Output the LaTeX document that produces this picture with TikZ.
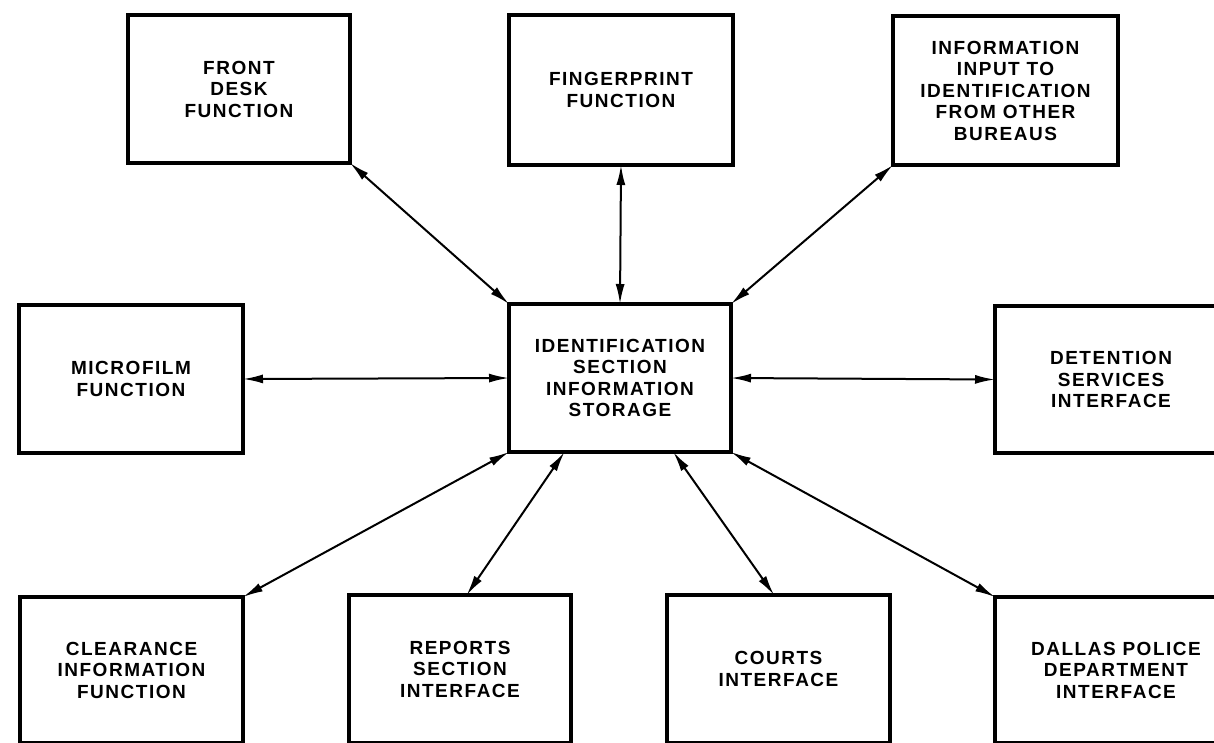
\documentclass[tikz,border=0pt]{standalone}
\usepackage{fontspec}
\setmainfont{Liberation Sans}
\newfontfamily\labfont{Liberation Sans}[LetterSpace=8]
\usetikzlibrary{arrows.meta,calc}
\tikzset{
  blk/.style={draw=black, line width=3.5pt, rectangle, inner sep=0pt, outer sep=0pt, align=center,
    font=\labfont\bfseries\fontsize{19}{21.5}\selectfont},
  conn/.style={line width=2pt, {Latex[length=20pt,width=9pt]}-{Latex[length=20pt,width=9pt]}}
}
\begin{document}
\begin{tikzpicture}[x=1pt,y=-1pt]
\fill[white] (0,0) rectangle (1214,742);
\useasboundingbox (0,0) rectangle (1214,742);
% top row
\node[blk, minimum width=222pt, minimum height=148pt] (front) at (239,89) {FRONT\\DESK\\FUNCTION};
\node[blk, minimum width=224pt, minimum height=150pt] (finger) at (621,90) {FINGERPRINT\\FUNCTION};
\node[blk, minimum width=225pt, minimum height=149pt] (info) at (1005.5,90.5) {INFORMATION\\INPUT TO\\IDENTIFICATION\\FROM OTHER\\BUREAUS};
% middle row
\node[blk, minimum width=224pt, minimum height=148pt] (micro) at (131,379) {MICROFILM\\FUNCTION};
\node[blk, minimum width=222pt, minimum height=148pt] (center) at (620,378) {IDENTIFICATION\\SECTION\\INFORMATION\\STORAGE};
\node[blk, minimum width=232pt, minimum height=147pt] (deten) at (1111,379.5) {DETENTION\\SERVICES\\INTERFACE};
% bottom row
\node[blk, minimum width=223pt, minimum height=146pt] (clear) at (131.5,670) {CLEARANCE\\INFORMATION\\FUNCTION};
\node[blk, minimum width=222pt, minimum height=148pt] (reports) at (460,669) {REPORTS\\SECTION\\INTERFACE};
\node[blk, minimum width=223pt, minimum height=148pt] (courts) at (778.5,669) {COURTS\\INTERFACE};
\node[blk, minimum width=242pt, minimum height=146pt] (dallas) at (1116,670) {DALLAS POLICE\\DEPARTMENT\\INTERFACE};
% connector end points on box borders
\coordinate (cRep) at ($(center.south west)!0.25!(center.south east)$);
\coordinate (cCou) at ($(center.south west)!0.74!(center.south east)$);
\coordinate (rTop) at ($(reports.north west)!0.53!(reports.north east)$);
\coordinate (kTop) at ($(courts.north west)!0.48!(courts.north east)$);
% connectors
\draw[conn] (front.south east) -- (center.north west);
\draw[conn] (finger.south) -- (center.north);
\draw[conn] (info.south west) -- (center.north east);
\draw[conn] (micro.east) -- (center.west);
\draw[conn] (deten.west) -- (center.east);
\draw[conn] (clear.north east) -- (center.south west);
\draw[conn] (rTop) -- (cRep);
\draw[conn] (kTop) -- (cCou);
\draw[conn] (dallas.north west) -- (center.south east);
\end{tikzpicture}
\end{document}
